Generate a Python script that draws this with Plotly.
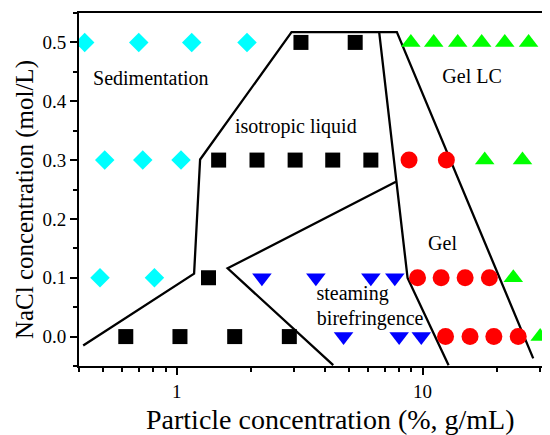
import plotly.graph_objects as go
import math

# ---- data ----
sed_x = [0.422, 0.70, 1.15, 1.93, 0.509, 0.727, 1.04, 0.487, 0.811]
sed_y = [0.5, 0.5, 0.5, 0.5, 0.3, 0.3, 0.3, 0.1, 0.1]

iso_x = [3.2, 5.32, 1.48, 2.12, 3.03, 4.31, 6.16, 1.346, 0.62, 1.03, 1.72, 2.87]
iso_y = [0.5, 0.5, 0.3, 0.3, 0.3, 0.3, 0.3, 0.1, 0.0, 0.0, 0.0, 0.0]

bir_x = [2.22, 3.68, 6.16, 7.71, 4.77, 8.03, 9.88]
bir_y = [0.1, 0.1, 0.1, 0.1, 0.0, 0.0, 0.0]

gel_x = [8.81, 12.5, 9.54, 11.9, 14.9, 18.7, 12.4, 15.6, 19.5, 24.5]
gel_y = [0.3, 0.3, 0.1, 0.1, 0.1, 0.1, 0.0, 0.0, 0.0, 0.0]

lc_x = [8.96, 11.1, 13.9, 17.4, 21.6, 27.0, 17.9, 25.5, 23.4, 30.1]
lc_y = [0.5, 0.5, 0.5, 0.5, 0.5, 0.5, 0.3, 0.3, 0.1, 0.0]

# phase boundaries
b1_x = [0.416, 1.176, 1.244, 2.93, 7.86, 28.2]
b1_y = [-0.015, 0.107, 0.301, 0.5175, 0.5175, -0.037]
b2_x = [6.66, 8.69, 12.76]
b2_y = [0.5175, 0.0995, -0.0486]
b3_x = [7.79, 1.61, 4.33]
b3_y = [0.263, 0.116, -0.0486]

labels = ["Sedimentation", "isotropic liquid", "Gel LC", "Gel", "steaming", "birefringence"]
label_x = [0.784, 3.05, 15.9, 12.06, 5.19, 6.12]
label_y = [0.436, 0.355, 0.44, 0.156, 0.071, 0.028]

x_major = [1, 10]
x_minor = [0.4, 0.5, 0.6, 0.7, 0.8, 0.9, 2, 3, 4, 5, 6, 7, 8, 9, 20, 30]
y_ticks = [0.0, 0.1, 0.2, 0.3, 0.4, 0.5]

x_title = "Particle concentration (%, g/mL)"
y_title = "NaCl concentration (mol/L)"

SERIF = "Times New Roman"

fig = go.Figure()
for bx, by in [(b1_x, b1_y), (b2_x, b2_y), (b3_x, b3_y)]:
    fig.add_trace(go.Scatter(x=bx, y=by, mode="lines",
                             line=dict(color="black", width=2.3),
                             showlegend=False, hoverinfo="skip"))

fig.add_trace(go.Scatter(x=sed_x, y=sed_y, mode="markers",
                         marker=dict(symbol="diamond", size=15, color="#00FFFF"), showlegend=False))
fig.add_trace(go.Scatter(x=iso_x, y=iso_y, mode="markers",
                         marker=dict(symbol="square", size=15, color="black"), showlegend=False))
fig.add_trace(go.Scatter(x=bir_x, y=bir_y, mode="markers",
                         marker=dict(symbol="triangle-down", size=17, color="#0000FF"), showlegend=False))
fig.add_trace(go.Scatter(x=gel_x, y=gel_y, mode="markers",
                         marker=dict(symbol="circle", size=17, color="#FF0000"), showlegend=False))
fig.add_trace(go.Scatter(x=lc_x, y=lc_y, mode="markers",
                         marker=dict(symbol="triangle-up", size=17, color="#00FF00"), showlegend=False))

fig.add_trace(go.Scatter(x=label_x, y=label_y, mode="text", text=labels,
                         textfont=dict(family=SERIF, size=20, color="black"),
                         textposition="middle center", showlegend=False, hoverinfo="skip"))

# page body has an 8px margin, so the figure is sized/offset to compensate
fig.update_layout(
    width=542, height=427,
    margin=dict(l=71, r=0, t=5, b=69, autoexpand=False),
    paper_bgcolor="white", plot_bgcolor="white",
    font=dict(family=SERIF, color="black"),
    annotations=[
        dict(text=x_title, xref="paper", yref="paper", x=0.535, y=-0.151,
             xanchor="center", yanchor="middle", showarrow=False,
             font=dict(family=SERIF, size=28, color="black")),
        dict(text=y_title, xref="paper", yref="paper", x=-0.1146, y=0.47,
             xanchor="center", yanchor="middle", showarrow=False, textangle=-90,
             font=dict(family=SERIF, size=25, color="black")),
    ],
)
fig.update_xaxes(
    type="log", range=[math.log10(0.4), math.log10(33.0)], automargin=False,
    showgrid=False, zeroline=False,
    showline=True, linecolor="black", linewidth=2, mirror=True,
    ticks="outside", ticklen=7, tickwidth=2, tickcolor="black",
    tickmode="array", tickvals=x_major, ticktext=[str(v) for v in x_major],
    tickfont=dict(family=SERIF, size=19),
    minor=dict(tickmode="array", tickvals=x_minor, ticks="outside",
               ticklen=4, tickwidth=2, tickcolor="black", showgrid=False),
)
fig.update_yaxes(
    range=[-0.05, 0.55], automargin=False,
    showgrid=False, zeroline=False,
    showline=True, linecolor="black", linewidth=2, mirror=False,
    ticks="outside", ticklen=7, tickwidth=2, tickcolor="black",
    tickmode="array", tickvals=y_ticks, ticktext=[f"{v:.1f}" for v in y_ticks],
    tickfont=dict(family=SERIF, size=19),
    minor=dict(dtick=0.05, tick0=0, ticks="outside", ticklen=4, tickwidth=2,
               tickcolor="black", showgrid=False),
)

fig.write_html("out.html")
